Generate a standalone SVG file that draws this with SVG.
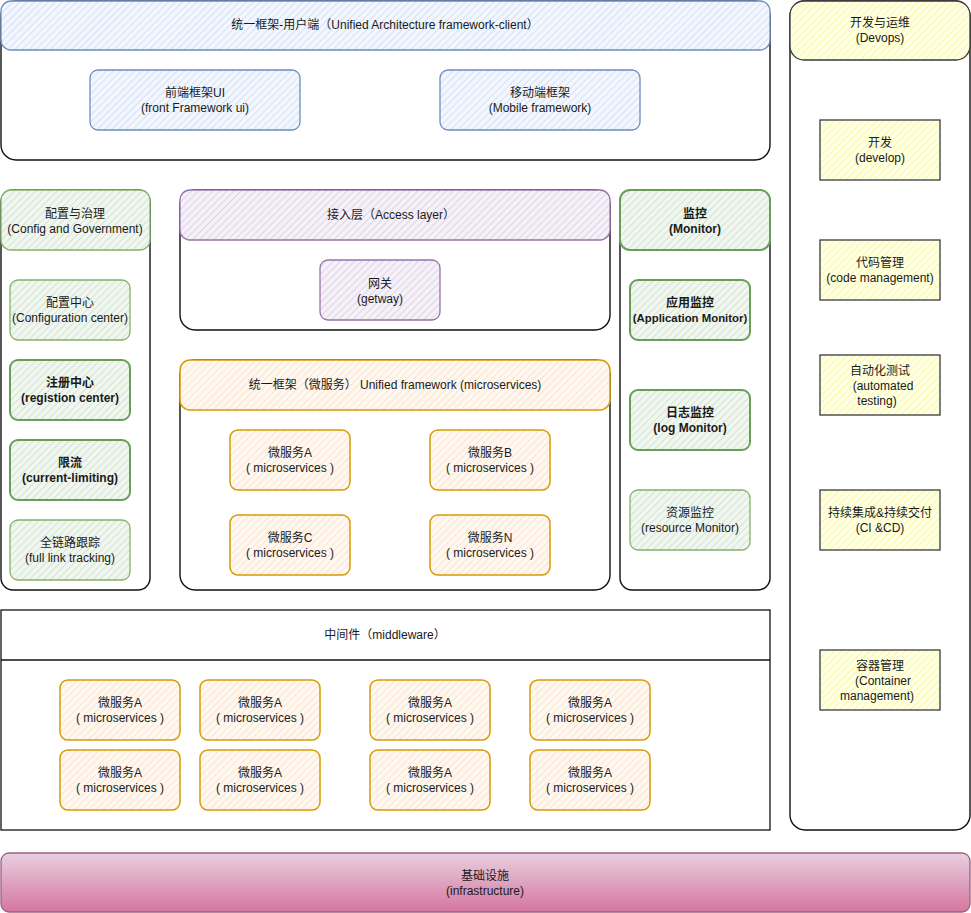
<svg xmlns="http://www.w3.org/2000/svg" width="971" height="913" viewBox="0 0 971 913">
<defs>
<pattern id="hBlue" width="5" height="5" patternUnits="userSpaceOnUse" patternTransform="rotate(45)"><rect width="5" height="5" fill="#f3f7fd"/><line x1="0" y1="0" x2="0" y2="5" stroke="#cadcf3" stroke-width="1.6"/></pattern>
<pattern id="hGreen" width="5" height="5" patternUnits="userSpaceOnUse" patternTransform="rotate(45)"><rect width="5" height="5" fill="#f1f7f0"/><line x1="0" y1="0" x2="0" y2="5" stroke="#c9e0c7" stroke-width="1.6"/></pattern>
<pattern id="hPurple" width="5" height="5" patternUnits="userSpaceOnUse" patternTransform="rotate(45)"><rect width="5" height="5" fill="#f5f1f8"/><line x1="0" y1="0" x2="0" y2="5" stroke="#dacbe2" stroke-width="1.6"/></pattern>
<pattern id="hOrange" width="5" height="5" patternUnits="userSpaceOnUse" patternTransform="rotate(45)"><rect width="5" height="5" fill="#fff8f1"/><line x1="0" y1="0" x2="0" y2="5" stroke="#fbe0c6" stroke-width="1.6"/></pattern>
<pattern id="hYellow" width="5" height="5" patternUnits="userSpaceOnUse" patternTransform="rotate(45)"><rect width="5" height="5" fill="#ffffe6"/><line x1="0" y1="0" x2="0" y2="5" stroke="#f8f890" stroke-width="1.6"/></pattern>
<linearGradient id="gInfra" x1="0" y1="0" x2="0" y2="1"><stop offset="0" stop-color="#e8d0df"/><stop offset="1" stop-color="#d5769f"/></linearGradient>
</defs>
<style>
text{font-family:"Liberation Sans","Noto Sans CJK SC",sans-serif;font-size:12px;fill:#1a1a1a;text-anchor:middle}
.b{font-weight:bold}
.s{font-size:11.4px}
.cont{fill:#fff;stroke:#111;stroke-width:1.4}
.blue{fill:url(#hBlue);stroke:#6c8ebf;stroke-width:1.3}
.green{fill:url(#hGreen);stroke:#82b366;stroke-width:1.3}
.greenB{fill:url(#hGreen);stroke:#6a9e58;stroke-width:2}
.purple{fill:url(#hPurple);stroke:#9673a6;stroke-width:1.3}
.orange{fill:url(#hOrange);stroke:#d79b00;stroke-width:1.5}
.yellow{fill:url(#hYellow);stroke:#36393d;stroke-width:1.3}
</style>
<rect width="971" height="913" fill="#fff"/>

<g id="client">
<rect class="cont" x="1" y="1" width="769" height="159" rx="15"/>
<rect class="blue" x="1" y="1" width="769" height="49" rx="10"/>
<text x="385" y="29">统一框架-用户端（Unified Architecture framework-client）</text>
</g>
<g id="front-ui">
<rect class="blue" x="90" y="70" width="210" height="60" rx="8"/>
<text x="195" y="97">前端框架UI</text><text x="195" y="112">(front Framework ui)</text>
</g>
<g id="mobile">
<rect class="blue" x="440" y="70" width="200" height="60" rx="8"/>
<text x="540" y="97">移动端框架</text><text x="540" y="112">(Mobile framework)</text>
</g>

<g id="config">
<rect class="cont" x="1" y="190" width="149" height="400" rx="12"/>
<rect class="green" x="1" y="190" width="149" height="60" rx="10"/>
<text x="75" y="218">配置与治理</text><text x="75" y="233">(Config and Government)</text>
</g>
<g id="config-center">
<rect class="green" x="10" y="280" width="120" height="60" rx="8"/>
<text x="70" y="307">配置中心</text><text x="70" y="322">(Configuration center)</text>
</g>
<g id="registry">
<rect class="greenB" x="10" y="360" width="120" height="60" rx="8"/>
<text class="b" x="70" y="387">注册中心</text><text class="b" x="70" y="402">(registion center)</text>
</g>
<g id="limiting">
<rect class="greenB" x="10" y="440" width="120" height="60" rx="8"/>
<text class="b" x="70" y="467">限流</text><text class="b" x="70" y="482">(current-limiting)</text>
</g>
<g id="tracking">
<rect class="green" x="10" y="520" width="120" height="60" rx="8"/>
<text x="70" y="547">全链路跟踪</text><text x="70" y="562">(full link tracking)</text>
</g>

<g id="access">
<rect class="cont" x="180" y="190" width="430" height="140" rx="15"/>
<rect class="purple" x="180" y="190" width="430" height="50" rx="10"/>
<text x="391" y="219">接入层（Access layer）</text>
</g>
<g id="gateway">
<rect class="purple" x="320" y="260" width="120" height="60" rx="8"/>
<text x="380" y="288">网关</text><text x="380" y="303">(getway)</text>
</g>

<g id="unified">
<rect class="cont" x="180" y="360" width="430" height="230" rx="15"/>
<rect class="orange" x="180" y="360" width="430" height="50" rx="10"/>
<text x="395" y="389">统一框架（微服务） Unified framework (microservices)</text>
</g>
<g id="ms-a">
<rect class="orange" x="230" y="430" width="120" height="60" rx="8"/>
<text x="290" y="457">微服务A</text><text x="290" y="472">( microservices )</text>
</g>
<g id="ms-b">
<rect class="orange" x="430" y="430" width="120" height="60" rx="8"/>
<text x="490" y="457">微服务B</text><text x="490" y="472">( microservices )</text>
</g>
<g id="ms-c">
<rect class="orange" x="230" y="515" width="120" height="60" rx="8"/>
<text x="290" y="542">微服务C</text><text x="290" y="557">( microservices )</text>
</g>
<g id="ms-n">
<rect class="orange" x="430" y="515" width="120" height="60" rx="8"/>
<text x="490" y="542">微服务N</text><text x="490" y="557">( microservices )</text>
</g>

<g id="monitor">
<rect class="cont" x="620" y="190" width="150" height="400" rx="12"/>
<rect class="greenB" x="620" y="190" width="150" height="60" rx="10"/>
<text class="b" x="695" y="218">监控</text><text class="b" x="695" y="233">(Monitor)</text>
</g>
<g id="app-monitor">
<rect class="greenB" x="630" y="280" width="120" height="60" rx="8"/>
<text class="b" x="690" y="307">应用监控</text><text class="b s" x="690" y="322">(Application Monitor)</text>
</g>
<g id="log-monitor">
<rect class="greenB" x="630" y="390" width="120" height="60" rx="8"/>
<text class="b" x="690" y="417">日志监控</text><text class="b" x="690" y="432">(log Monitor)</text>
</g>
<g id="resource-monitor">
<rect class="green" x="630" y="490" width="120" height="60" rx="8"/>
<text x="690" y="517">资源监控</text><text x="690" y="532">(resource Monitor)</text>
</g>

<g id="middleware">
<rect fill="#fff" stroke="#111" stroke-width="1.3" x="1" y="610" width="769" height="220"/>
<line x1="1" y1="660" x2="770" y2="660" stroke="#111" stroke-width="1.3"/>
<text x="385" y="639">中间件（middleware）</text>
</g>
<g id="mw-1"><rect class="orange" x="60" y="680" width="120" height="60" rx="8"/><text x="120" y="707">微服务A</text><text x="120" y="722">( microservices )</text></g>
<g id="mw-2"><rect class="orange" x="200" y="680" width="120" height="60" rx="8"/><text x="260" y="707">微服务A</text><text x="260" y="722">( microservices )</text></g>
<g id="mw-3"><rect class="orange" x="370" y="680" width="120" height="60" rx="8"/><text x="430" y="707">微服务A</text><text x="430" y="722">( microservices )</text></g>
<g id="mw-4"><rect class="orange" x="530" y="680" width="120" height="60" rx="8"/><text x="590" y="707">微服务A</text><text x="590" y="722">( microservices )</text></g>
<g id="mw-5"><rect class="orange" x="60" y="750" width="120" height="60" rx="8"/><text x="120" y="777">微服务A</text><text x="120" y="792">( microservices )</text></g>
<g id="mw-6"><rect class="orange" x="200" y="750" width="120" height="60" rx="8"/><text x="260" y="777">微服务A</text><text x="260" y="792">( microservices )</text></g>
<g id="mw-7"><rect class="orange" x="370" y="750" width="120" height="60" rx="8"/><text x="430" y="777">微服务A</text><text x="430" y="792">( microservices )</text></g>
<g id="mw-8"><rect class="orange" x="530" y="750" width="120" height="60" rx="8"/><text x="590" y="777">微服务A</text><text x="590" y="792">( microservices )</text></g>

<g id="infrastructure">
<rect x="1" y="853" width="969" height="59" rx="8" fill="url(#gInfra)" stroke="#996185" stroke-width="1.3"/>
<text x="485" y="880">基础设施</text><text x="485" y="895">(infrastructure)</text>
</g>

<g id="devops">
<rect class="cont" x="790" y="1" width="180" height="829" rx="15"/>
<rect class="yellow" x="790" y="1" width="180" height="59" rx="14"/>
<text x="880" y="27">开发与运维</text><text x="880" y="42">(Devops)</text>
</g>
<g id="develop"><rect class="yellow" x="820" y="120" width="120" height="60"/><text x="880" y="147">开发</text><text x="880" y="162">(develop)</text></g>
<g id="code-mgmt"><rect class="yellow" x="820" y="240" width="120" height="60"/><text x="880" y="267">代码管理</text><text x="880" y="282">(code management)</text></g>
<g id="auto-test"><rect class="yellow" x="820" y="355" width="120" height="60"/><text x="880" y="375">自动化测试</text><text x="883" y="390">(automated</text><text x="877" y="405">testing)</text></g>
<g id="cicd"><rect class="yellow" x="820" y="490" width="120" height="60"/><text x="880" y="517">持续集成&amp;持续交付</text><text x="880" y="532">(CI &amp;CD)</text></g>
<g id="container-mgmt"><rect class="yellow" x="820" y="650" width="120" height="60"/><text x="880" y="670">容器管理</text><text x="883" y="685">(Container</text><text x="877" y="700">management)</text></g>

<g id="connectors"/>
</svg>
